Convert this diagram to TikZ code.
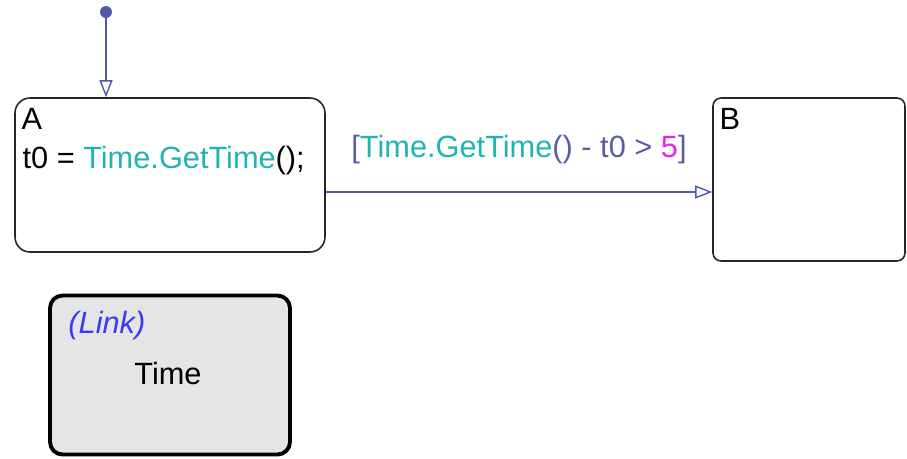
\documentclass[tikz,border=0pt]{standalone}
\usepackage{fontspec}
\setmainfont{Liberation Sans}
\usepackage{xcolor}
\usetikzlibrary{arrows.meta, calc}

\definecolor{trline}{HTML}{5259A6}
\definecolor{fncol}{HTML}{22B2B2}
\definecolor{opcol}{HTML}{5A5DA3}
\definecolor{numcol}{HTML}{F01EF0}
\definecolor{linkcol}{HTML}{3A3AF0}

\begin{document}
\begin{tikzpicture}[x=0.02cm, y=-0.02cm, >={Triangle[open, length=3.4mm, width=2.6mm]},
  every node/.style={font=\fontsize{17.5}{20}\selectfont, inner sep=0pt},
  chartstate/.style={draw=black!85, line width=0.9pt, rounded corners=0.3cm},
  trans/.style={draw=trline, line width=0.8pt}]
  \useasboundingbox (0,0) rectangle (907,458);
  \node[chartstate, minimum width=6.2cm, minimum height=3.08cm] (stateA) at (170,175) {};
  \node[chartstate, rounded corners=0.16cm, minimum width=3.84cm, minimum height=3.26cm] (stateB) at (809,179.5) {};
  \node[draw=black, line width=2.2pt, rounded corners=0.25cm, fill=black!10, minimum width=4.8cm, minimum height=3.18cm] (linkTime) at (170,375) {};
  \node[anchor=north west] (labelA) at ($(stateA.north west)+(7,11)$) {A};
  \node[anchor=north west] (entryA) at ($(stateA.north west)+(8,49)$) {t0 = \textcolor{fncol}{Time.GetTime}();};
  \node[anchor=north west] (labelB) at ($(stateB.north west)+(7,11)$) {B};
  \node[anchor=north west, text=linkcol] (linkTag) at ($(linkTime.north west)+(20,17)$) {\itshape (Link)};
  \node (linkName) at ($(linkTime.center)+(-2,-2)$) {Time};
  % default transition
  \node[circle, fill=trline, minimum size=0.24cm] (init) at (106,12) {};
  \draw[trans, ->] (init) -- (init |- stateA.north);
  % guarded transition A -> B
  \coordinate (fromA) at (stateA.east |- 0,192);
  \draw[trans, ->] (fromA) -- (fromA -| stateB.west)
    node[midway, above=0.55cm] (guard) {\textcolor{opcol}{[}\textcolor{fncol}{Time.GetTime}\textcolor{opcol}{() - t0 > }\textcolor{numcol}{5}\textcolor{opcol}{]}};
\end{tikzpicture}
\end{document}
